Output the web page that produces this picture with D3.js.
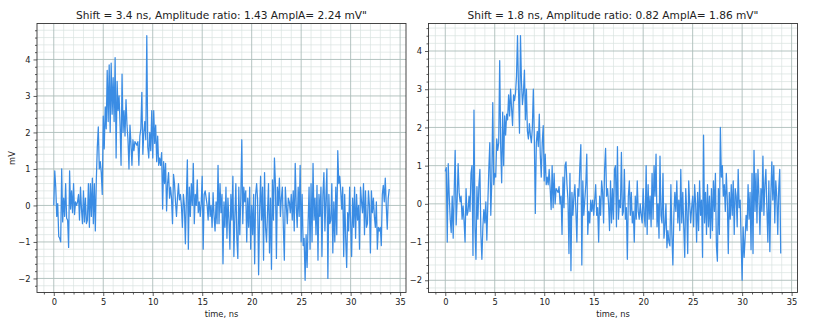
<!DOCTYPE html>
<html>
<head>
<meta charset="utf-8">
<script src="https://cdn.jsdelivr.net/npm/d3@7"></script>
<style>
  body { margin: 0; background: #fff; }
  text { font-family: "DejaVu Sans", sans-serif; fill: #222; }
</style>
</head>
<body>
<div id="chart"></div>
<script>
const width = 813;
const height = 328;

// time step of the scope trace, ns
const dt = 0.1;

const titleA = "Shift = 3.4 ns, Amplitude ratio: 1.43 AmplA= 2.24 mV\"";
const titleB = "Shift = 1.8 ns, Amplitude ratio: 0.82 AmplA= 1.86 mV\"";

// signal values, mV, one row per ns
const traceA = [
  0.0, 0.95, 0.5, -0.3, 0.05, -0.85, -0.9, -1.0, 1.0, -0.45,
  0.2, -0.3, 0.6, -0.35, -0.4, -1.15, 0.95, -0.1, 0.4, -0.2,
  0.6, -0.25, 0.1, 0.0, 0.1, 0.3, -0.4, 0.5, -0.1, -0.5,
  0.4, -0.45, 0.2, -0.5, -0.4, 0.6, -0.6, 0.6, -0.3, 0.75,
  -0.5, 0.6, -0.7, 0.7, 1.6, 2.15, 1.0, 1.2, 0.9, 0.3,
  2.45, 1.55, 2.7, 2.1, 3.7, 2.3, 3.85, 2.0, 3.9, 2.5,
  3.5, 2.3, 4.05, 1.3, 3.4, 2.6, 3.0, 2.2, 1.1, 3.6,
  2.0, 2.6, 1.9, 2.9, 2.2, 1.8, 1.0, 2.2, 1.7, 1.1,
  1.8, 1.5, 1.75, 1.7, 1.65, 1.75, 1.1, 1.9, 2.1, 3.1,
  1.4, 2.0, 2.3, 1.8, 4.65, 1.6, 1.3, 2.0, 1.5, 2.6,
  1.3, 2.6, 1.7, 2.2, 1.2, 1.9, 1.1, 1.3, 1.1, 1.45,
  -0.1, 1.2, 0.6, 1.15, -0.15, 0.6, 0.9, 0.2, 0.5, 0.2,
  -0.5, 0.85, 0.6, 0.1, -0.3, 0.2, 0.6, 0.15, 0.3, 0.0,
  -0.6, 0.3, 0.0, -1.05, 0.2, 1.25, -1.2, 0.5, -0.3, 0.6,
  0.0, 1.15, -0.5, 0.3, 0.0, 0.7, -0.2, 0.1, -0.3, 0.05,
  0.8, -1.2, 0.3, 0.4, 0.2, 0.0, -0.4, 0.35, -0.3, 0.0,
  -0.6, 0.35, -0.3, -0.7, 0.1, -0.5, 1.1, -0.5, 0.6, -0.2,
  0.3, -1.6, 0.1, -0.6, 0.5, -0.9, 0.2, -0.4, -1.2, 0.3,
  -0.4, 0.8, -1.4, -0.3, 0.6, -0.9, -1.45, 0.5, -0.8, 0.2,
  1.8, -0.5, 0.5, 0.1, 0.4, -1.0, 0.2, -0.6, 0.5, -1.2,
  0.0, -0.8, 0.3, -1.6, 0.3, 0.6, 0.15, -1.9, -0.2, 0.8,
  -0.4, 0.5, -1.5, 0.9, -0.6, -1.0, -0.2, 0.6, -1.3, 0.2,
  -1.75, 0.7, -0.4, 1.3, 0.6, -1.45, 0.5, 0.0, 0.75, -0.3,
  0.2, 0.5, -0.6, -1.5, 0.5, 0.0, -0.5, 0.2, 0.1, -0.2,
  0.3, -0.4, 0.4, -0.7, 1.15, 0.0, -0.6, 0.5, -0.3, 1.1,
  -1.0, 0.3, -1.1, -0.9, -2.05, -0.8, -1.7, -0.5, 0.5, -1.2,
  0.6, -1.0, 1.15, -0.4, 0.2, -0.8, 0.55, -1.5, 0.3, -0.3,
  0.5, -1.4, 0.3, 0.9, -0.7, 0.2, 1.0, -2.0, 0.3, -0.5,
  -0.4, 0.6, -1.3, 0.1, -1.0, 0.5, -0.8, 1.5, 0.6, 0.8,
  0.4, -0.1, 0.5, -1.4, 0.3, -0.9, -1.7, -0.2, -0.7, 0.5,
  -0.5, -1.4, 0.2, -0.6, 0.5, -0.9, 0.3, -0.4, 0.0, -1.2,
  0.5, 0.1, -0.2, 0.6, -0.8, 0.4, -0.6, -0.5, 0.4, 0.0,
  -1.3, 0.4, -0.2, 0.2, -0.3, -0.6, 0.1, -1.2, -0.6, -0.7,
  -0.6, -1.1, 0.3, 0.55, 0.1, 0.75, 0.0, -0.65, 0.2, 0.45
];

const traceB = [
  0.85, 0.95, -1.0, 1.05, 0.2, -0.4, -0.75, 0.2, -0.9, 0.3,
  1.4, -0.55, 0.1, 1.05, 0.3, 0.05, 0.2, -0.4, -0.05, -0.45,
  -1.0, 0.4, -0.3, -0.2, 0.2, -0.2, 0.8, 1.0, -1.35, 2.45,
  -0.6, -1.45, 0.45, -0.4, 0.5, 0.9, -0.8, -1.45, -0.6, -0.15,
  -0.5, 0.05, -0.95, 0.0, 0.9, 1.6, -0.3, 0.6, 2.65, 0.5,
  0.8, 0.7, 1.7, 1.4, 1.6, 3.75, 1.5, 0.55, 2.4, 1.0,
  2.3, 1.8, 2.35, 2.2, 2.85, 2.3, 3.0, 2.5, 2.05, 2.85,
  2.7, 2.9, 3.35, 4.4, 3.0, 1.85, 4.4, 3.2, 2.6, 2.9,
  3.5, 2.2, 3.0, 1.9, 1.7, 2.1, 1.8, 1.6, 2.0, 3.0,
  1.7, -0.25, 1.6, 1.9, 1.5, 2.35, 1.3, 0.7, 1.6, 2.05,
  0.6, 1.3, 0.5, 0.7, 0.5, 0.9, 0.4, -0.15, 1.0, -0.1,
  0.8, 0.0, 0.4, 0.35, 0.3, 0.45, 0.0, 0.2, -0.8, 0.7,
  -0.1, 1.0, 1.1, 0.5, 0.1, -1.3, 0.8, -1.75, 0.3, -0.3,
  0.2, 0.5, -0.2, -1.0, 0.4, 0.2, 1.0, 1.55, -1.6, 0.6,
  -0.3, 0.1, 0.5, 1.3, -0.8, -0.2, -0.5, 0.1, -0.2, 0.1,
  -0.3, 0.1, 0.5, -0.3, -0.1, -1.0, 0.2, -0.3, 0.6, 0.3,
  -0.5, 0.9, 1.45, 0.2, 0.4, 0.0, -0.7, 0.6, -0.5, 0.4,
  -0.4, 0.9, 1.0, -0.6, 1.5, -0.4, 0.1, -0.1, 1.35, -0.3,
  -0.2, 0.9, -0.4, -0.1, -1.45, 0.2, 0.6, -0.3, 0.3, -0.5,
  -0.2, -1.0, 0.2, -0.4, 0.6, -0.2, -0.4, 0.0, -0.3, -0.5,
  0.4, -0.3, -0.6, 1.0, -0.8, 0.5, -0.4, 0.2, -0.6, 0.8,
  -0.4, 1.0, 0.2, 1.3, -0.6, 0.0, -0.9, 1.25, -0.3, -0.5,
  0.8, -0.9, -0.6, 0.0, -1.15, -0.7, -1.0, -1.1, 0.5, -0.8,
  -1.6, -0.3, 0.3, -0.2, 0.6, -0.5, 0.1, -0.7, 0.9, -0.5,
  0.3, -0.6, -1.4, 0.4, -0.2, -1.3, 0.6, 0.0, -0.5, -0.1,
  0.2, -0.6, 0.5, 0.0, -1.0, 0.3, -0.7, 0.6, -0.3, 0.1,
  -1.4, 1.8, -0.5, 0.3, -0.8, 0.5, -0.6, 0.2, -0.9, 0.4,
  -0.7, 0.6, -0.2, 0.8, -1.1, -1.5, 0.4, -0.8, 2.0, 0.7,
  1.0, 0.2, 0.5, -0.2, 0.8, 0.1, -1.3, 0.3, -0.4, 0.5,
  -0.3, 0.6, -0.8, 0.4, 0.2, -0.6, 0.9, -0.1, 0.1, -1.0,
  -2.0, -0.6, -1.4, -0.9, -0.3, -0.7, 0.5, -0.4, 0.3, -1.2,
  0.8, -1.3, 1.4, -0.2, 0.8, -0.5, 0.9, 0.2, -0.8, 0.4,
  -0.2, 1.25, -0.3, 0.5, 0.9, -0.1, -1.0, 0.6, -1.25, 0.2,
  1.1, 0.1, 1.0, -0.5, 0.6, 0.2, -0.8, 0.4, 0.9, -1.3
];

const xTicks = [0, 5, 10, 15, 20, 25, 30, 35];
const yTicks = [-2, -1, 0, 1, 2, 3, 4];

const panels = [
  {title: titleA, values: traceA, left: 37, right: 406, ylabel: "mV"},
  {title: titleB, values: traceB, left: 428.5, right: 797.5, ylabel: null}
];
const plotTop = 23.5, plotBottom = 292.5;

const svg = d3.select("#chart")
  .append("svg")
    .attr("width", width)
    .attr("height", height);

const fmt = d => d < 0 ? "\u2212" + Math.abs(d) : String(d);

panels.forEach(p => {
  const data = p.values.map((v, i) => ({t: i * dt, v: v}));
  const tMax = d3.max(data, d => d.t);
  const vExt = d3.extent(data, d => d.v);
  const padX = tMax * 0.05, padY = (vExt[1] - vExt[0]) * 0.05;

  const x = d3.scaleLinear().domain([-padX, tMax + padX]).range([p.left, p.right]);
  const y = d3.scaleLinear().domain([vExt[0] - padY, vExt[1] + padY]).range([plotBottom, plotTop]);

  const g = svg.append("g");

  // minor grid
  const xMinor = d3.range(-1, 36, 1).filter(t => t % 5 !== 0 && t >= x.domain()[0] && t <= x.domain()[1]);
  const yMinor = d3.range(-24, 51, 2).map(v => v / 10)
    .filter(v => Math.abs(v - Math.round(v)) > 1e-6 && v >= y.domain()[0] && v <= y.domain()[1]);

  g.append("g").selectAll("line").data(xMinor).join("line")
    .attr("x1", d => x(d)).attr("x2", d => x(d))
    .attr("y1", plotTop).attr("y2", plotBottom)
    .attr("stroke", "#d8e2e0").attr("stroke-width", 0.7);
  g.append("g").selectAll("line").data(yMinor).join("line")
    .attr("x1", p.left).attr("x2", p.right)
    .attr("y1", d => y(d)).attr("y2", d => y(d))
    .attr("stroke", "#d8e2e0").attr("stroke-width", 0.7);

  // major grid
  g.append("g").selectAll("line").data(xTicks.filter(t => t <= x.domain()[1])).join("line")
    .attr("x1", d => x(d)).attr("x2", d => x(d))
    .attr("y1", plotTop).attr("y2", plotBottom)
    .attr("stroke", "#adbdba").attr("stroke-width", 0.9);
  g.append("g").selectAll("line").data(yTicks).join("line")
    .attr("x1", p.left).attr("x2", p.right)
    .attr("y1", d => y(d)).attr("y2", d => y(d))
    .attr("stroke", "#adbdba").attr("stroke-width", 0.9);

  // trace
  g.append("path")
    .datum(data)
    .attr("fill", "none")
    .attr("stroke", "#3a8ce4")
    .attr("stroke-width", 1.25)
    .attr("stroke-linejoin", "round")
    .attr("d", d3.line().x(d => x(d.t)).y(d => y(d.v)));

  // axes
  g.append("g")
    .attr("transform", "translate(0," + plotBottom + ")")
    .call(d3.axisBottom(x).tickValues(xTicks).tickFormat(fmt).tickSize(3.5).tickPadding(3));
  g.append("g")
    .attr("transform", "translate(0," + plotBottom + ")")
    .call(d3.axisBottom(x).tickValues(xMinor).tickFormat("").tickSize(2));
  g.append("g")
    .attr("transform", "translate(" + p.left + ",0)")
    .call(d3.axisLeft(y).tickValues(yTicks).tickFormat(fmt).tickSize(3.5).tickPadding(3));
  g.append("g")
    .attr("transform", "translate(" + p.left + ",0)")
    .call(d3.axisLeft(y).tickValues(yMinor).tickFormat("").tickSize(2));

  g.selectAll(".domain").remove();
  g.selectAll(".tick line").attr("stroke", "#333").attr("stroke-width", 0.8);
  g.selectAll(".tick text")
    .style("font-family", "DejaVu Sans, sans-serif")
    .style("font-size", "8.3px")
    .attr("fill", "#222");

  // frame
  g.append("rect")
    .attr("x", p.left).attr("y", plotTop)
    .attr("width", p.right - p.left).attr("height", plotBottom - plotTop)
    .attr("fill", "none").attr("stroke", "#333").attr("stroke-width", 0.9);

  g.append("text")
    .attr("x", (p.left + p.right) / 2).attr("y", 18.5)
    .attr("text-anchor", "middle")
    .style("font-size", "10.6px")
    .text(p.title);

  g.append("text")
    .attr("x", (p.left + p.right) / 2).attr("y", 317)
    .attr("text-anchor", "middle")
    .style("font-size", "8.3px")
    .text("time, ns");

  if (p.ylabel) {
    g.append("text")
      .attr("transform", "translate(15," + (plotTop + plotBottom) / 2 + ") rotate(-90)")
      .attr("text-anchor", "middle")
      .style("font-size", "8.3px")
      .text(p.ylabel);
  }
});
</script>
</body>
</html>
